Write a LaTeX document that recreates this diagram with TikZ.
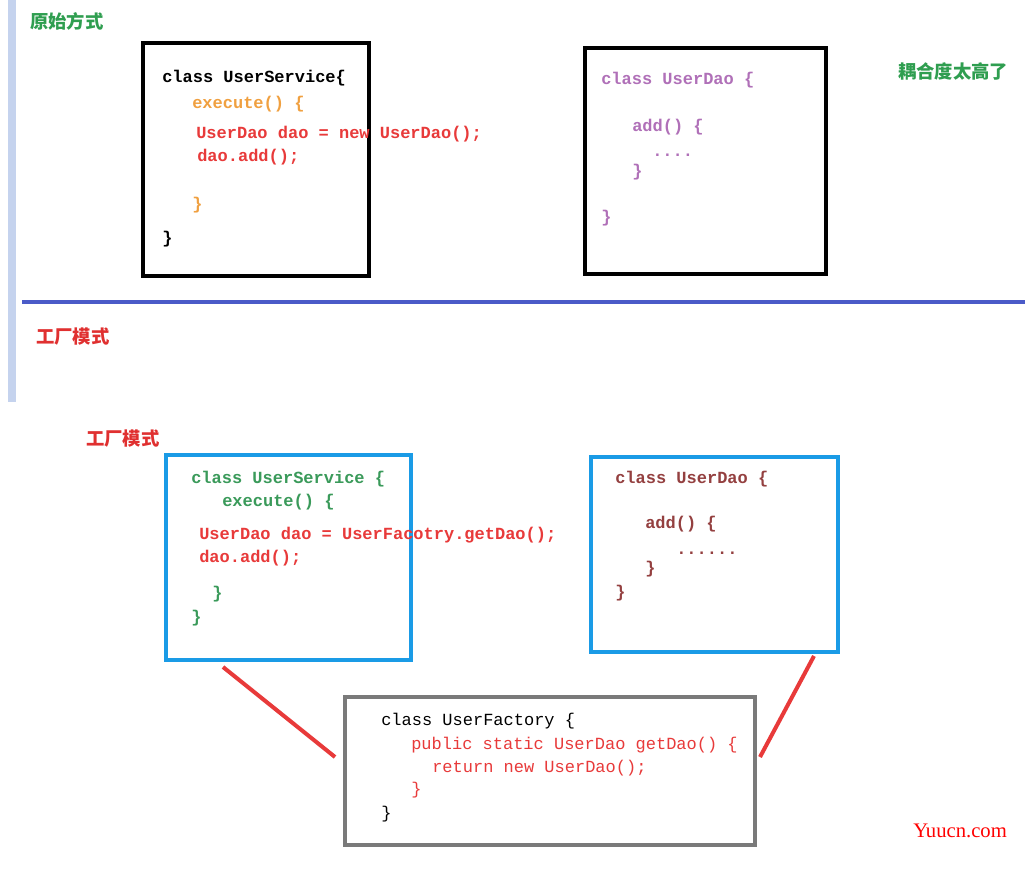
\documentclass[tikz,border=0pt]{standalone}
\usepackage{fontspec}
\setmonofont{Liberation Mono}
\newfontfamily\cjk{Noto Sans CJK SC}
\newfontfamily\serifx{Liberation Serif}
\usetikzlibrary{fit,calc}
\definecolor{titlegreen}{HTML}{2F9E50}
\definecolor{codeorange}{HTML}{F0A040}
\definecolor{codered}{HTML}{E83A3A}
\definecolor{codepurple}{HTML}{B070B8}
\definecolor{sepblue}{HTML}{4B5BC8}
\definecolor{titlered}{HTML}{E03030}
\definecolor{boxblue}{HTML}{1A9BE6}
\definecolor{codegreen}{HTML}{3A9A5A}
\definecolor{codedred}{HTML}{944040}
\definecolor{boxgray}{HTML}{7A7A7A}
\definecolor{barblue}{HTML}{C5D3EE}
\tikzset{
  code/.style={anchor=west, inner sep=0pt, text height=9pt, text depth=2.5pt,
    font=\fontsize{12.75pt}{14pt}\selectfont\ttfamily\bfseries},
  codelight/.style={code, font=\fontsize{12.75pt}{14pt}\selectfont\ttfamily},
  cjktitle/.style={anchor=west, inner sep=0pt, font=\fontsize{13.75pt}{15pt}\selectfont\cjk\bfseries},
  blackbox/.style={draw=black, line width=3.5pt, inner sep=0pt},
  bluebox/.style={draw=boxblue, line width=3pt, inner sep=0pt},
  graybox/.style={draw=boxgray, line width=3pt, inner sep=0pt},
  redline/.style={draw=codered, line width=3pt}
}
\begin{document}
\begin{tikzpicture}[x=0.75pt, y=-0.75pt]
\useasboundingbox (0,0) rectangle (1025,885);
\fill[white] (0,0) rectangle (1025,885);
% left bar
\fill[barblue] (8,0) rectangle (16,402);
% top section
\node[cjktitle, text=titlegreen] (t1) at (30,21) {原始方式};
\node[blackbox, fit={(143,43) (369,276)}] (svc1) {};
\node[code, text=black] (a1) at (162,78) {class UserService\{};
\node[code, text=codeorange] (a2) at (192,104) {execute() \{};
\node[code, text=codered] (a3) at (196,134) {UserDao dao = new UserDao();};
\node[code, text=codered] (a4) at (197,157) {dao.add();};
\node[code, text=codeorange] (a5) at (192,205) {\}};
\node[code, text=black] (a6) at (162,239) {\}};

\node[blackbox, fit={(585,48) (826,274)}] (dao1) {};
\node[code, text=codepurple] (b1) at (601,80) {class UserDao \{};
\node[code, text=codepurple] (b2) at (632,127) {add() \{};
\node[code, text=codepurple] (b3) at (652,152) {....};
\node[code, text=codepurple] (b4) at (632,172) {\}};
\node[code, text=codepurple] (b5) at (601,218) {\}};

\node[cjktitle, text=titlegreen] (t2) at (898,71) {耦合度太高了};

% separator
\draw[sepblue, line width=3pt] (22,302) -- (1025,302);
\node[cjktitle, text=titlered] (t3) at (36,337) {工厂模式};

% bottom section
\node[cjktitle, text=titlered] (t4) at (86,439) {工厂模式};
\node[bluebox, fit={(166,455) (411,660)}] (svc2) {};
\node[code, text=codegreen] (c1) at (191,479) {class UserService \{};
\node[code, text=codegreen] (c2) at (222,502) {execute() \{};
\node[code, text=codered] (c3) at (199,535) {UserDao dao = UserFacotry.getDao();};
\node[code, text=codered] (c4) at (199,558) {dao.add();};
\node[code, text=codegreen] (c5) at (212,594) {\}};
\node[code, text=codegreen] (c6) at (191,618) {\}};

\node[bluebox, fit={(591,457) (838,652)}] (dao2) {};
\node[code, text=codedred] (d1) at (615,479) {class UserDao \{};
\node[code, text=codedred] (d2) at (645,524) {add() \{};
\node[code, text=codedred] (d3) at (676,550) {......};
\node[code, text=codedred] (d4) at (645,569) {\}};
\node[code, text=codedred] (d5) at (615,593) {\}};

\node[graybox, fit={(345,697) (755,845)}] (fac) {};
\node[codelight, text=black] (e1) at (381,721) {class UserFactory \{};
\node[codelight, text=codered] (e2) at (411,745) {public static UserDao getDao() \{};
\node[codelight, text=codered] (e3) at (432,768) {return new UserDao();};
\node[codelight, text=codered] (e4) at (411,790) {\}};
\node[codelight, text=black] (e5) at (381,814) {\}};

\draw[redline] ([xshift=44.25pt, yshift=-3.75pt]svc2.south west) -- ([xshift=-6pt, yshift=10.5pt]fac.west);
\draw[redline] ([xshift=-19.5pt, yshift=-1.5pt]dao2.south east) -- ([xshift=2.25pt, yshift=10.5pt]fac.east);

\node[anchor=west, inner sep=0pt, text=red, font=\fontsize{15.5pt}{17pt}\selectfont\serifx] (wm) at (913,831) {Yuucn.com};
\end{tikzpicture}
\end{document}
